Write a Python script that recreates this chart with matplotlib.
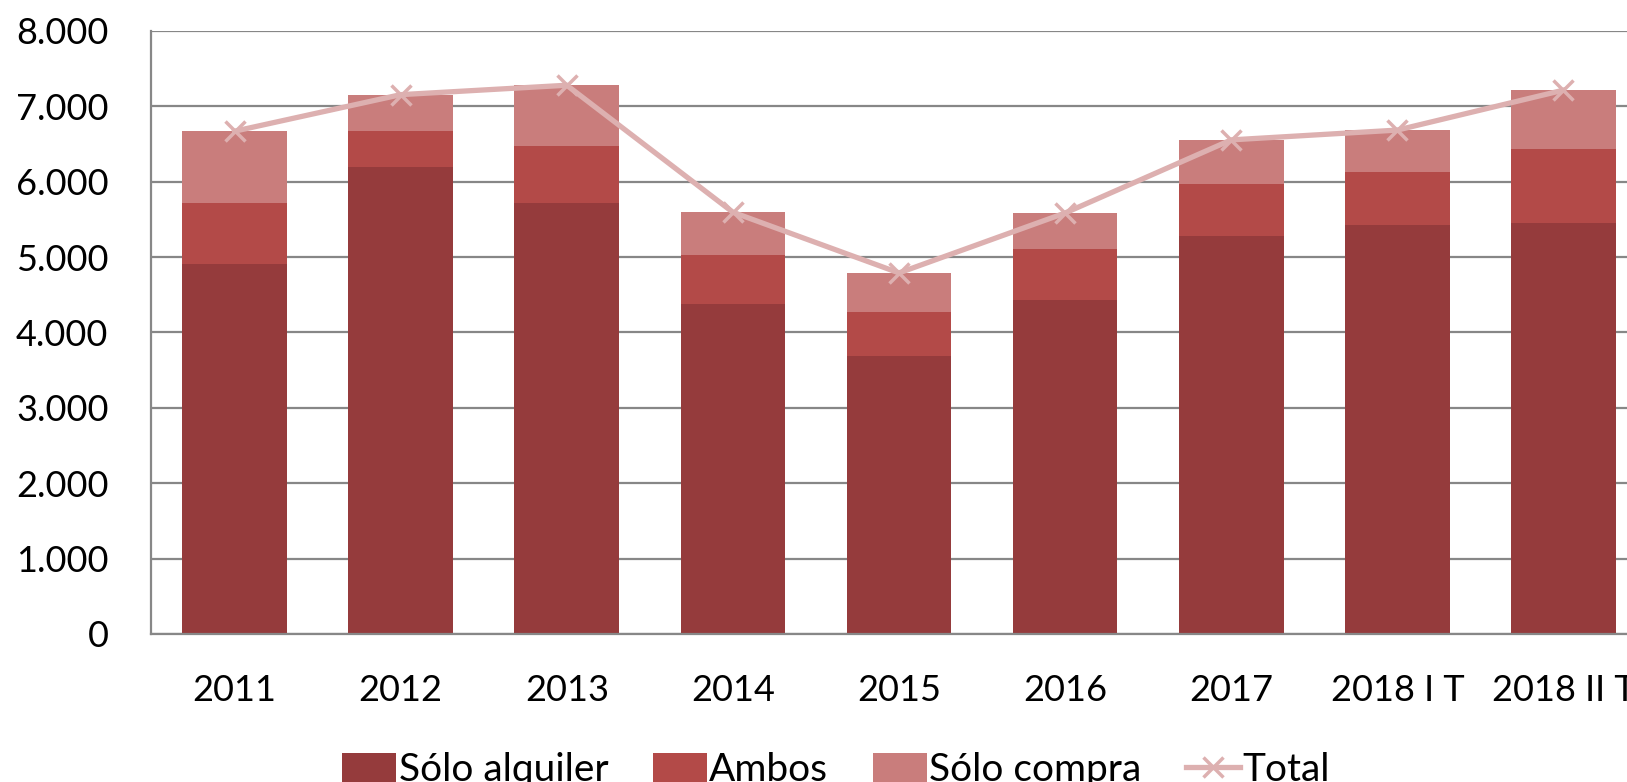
import numpy as np
import matplotlib
matplotlib.use("Agg")
from matplotlib import pyplot as plt
from matplotlib.ticker import FuncFormatter

categories = ["2011", "2012", "2013", "2014", "2015", "2016", "2017", "2018 I T", "2018 II T"]
solo_alquiler = [4910, 6195, 5715, 4380, 3690, 4430, 5280, 5425, 5450]
ambos = [805, 475, 755, 645, 580, 675, 690, 700, 980]
solo_compra = [955, 485, 810, 570, 520, 480, 585, 560, 785]
total = [6670, 7155, 7280, 5595, 4790, 5585, 6555, 6685, 7215]

c_alq = "#953B3C"
c_amb = "#B34A48"
c_comp = "#C97D7C"
c_tot = "#DDB0B0"
grid_c = "#878787"

plt.rcParams['font.family'] = ['Lato', 'DejaVu Sans']

fig = plt.figure(figsize=(16.27, 7.82), dpi=100)
# plot area runs past the right edge of the picture, as in the original
ax = fig.add_axes([0.0931, 0.1893, 0.9189, 0.7711])

x = np.arange(len(categories))
w = 0.63
alq = np.array(solo_alquiler)
amb = np.array(ambos)
comp = np.array(solo_compra)

ax.bar(x, alq, w, color=c_alq, label="Sólo alquiler", zorder=2)
ax.bar(x, amb, w, bottom=alq, color=c_amb, label="Ambos", zorder=2)
ax.bar(x, comp, w, bottom=alq + amb, color=c_comp, label="Sólo compra", zorder=2)
ax.plot(x, total, color=c_tot, lw=3.8, marker="x", markersize=15, mew=2.5,
        label="Total", zorder=3)

ax.set_xlim(-0.5, len(categories) - 0.5)
ax.set_ylim(0, 8000)
ax.set_yticks(np.arange(0, 8001, 1000))
ax.yaxis.set_major_formatter(FuncFormatter(lambda v, p: f"{int(v):,}".replace(",", ".")))
ax.set_xticks(x)
ax.set_xticklabels(categories)

ax.grid(axis="y", color=grid_c, lw=1.6, zorder=0)
ax.set_axisbelow(True)
for s in ["top", "right"]:
    ax.spines[s].set_visible(False)
for s in ["left", "bottom"]:
    ax.spines[s].set_color(grid_c)
    ax.spines[s].set_linewidth(1.6)
ax.tick_params(axis="y", length=0, pad=31, labelsize=26)
ax.tick_params(axis="x", length=0, pad=29, labelsize=26)

# legend sits at the very bottom, partly cut by the edge like the original
h, l = ax.get_legend_handles_labels()
order = [1, 2, 3, 0]
fig.legend([h[i] for i in order], [l[i] for i in order],
           loc="center", bbox_to_anchor=(0.514, 0.015), ncol=4, frameon=False,
           fontsize=28, handlelength=1.39, handleheight=0.82, handletextpad=0.06,
           columnspacing=1.15, borderaxespad=0)

fig.savefig("out.png", dpi=100)
